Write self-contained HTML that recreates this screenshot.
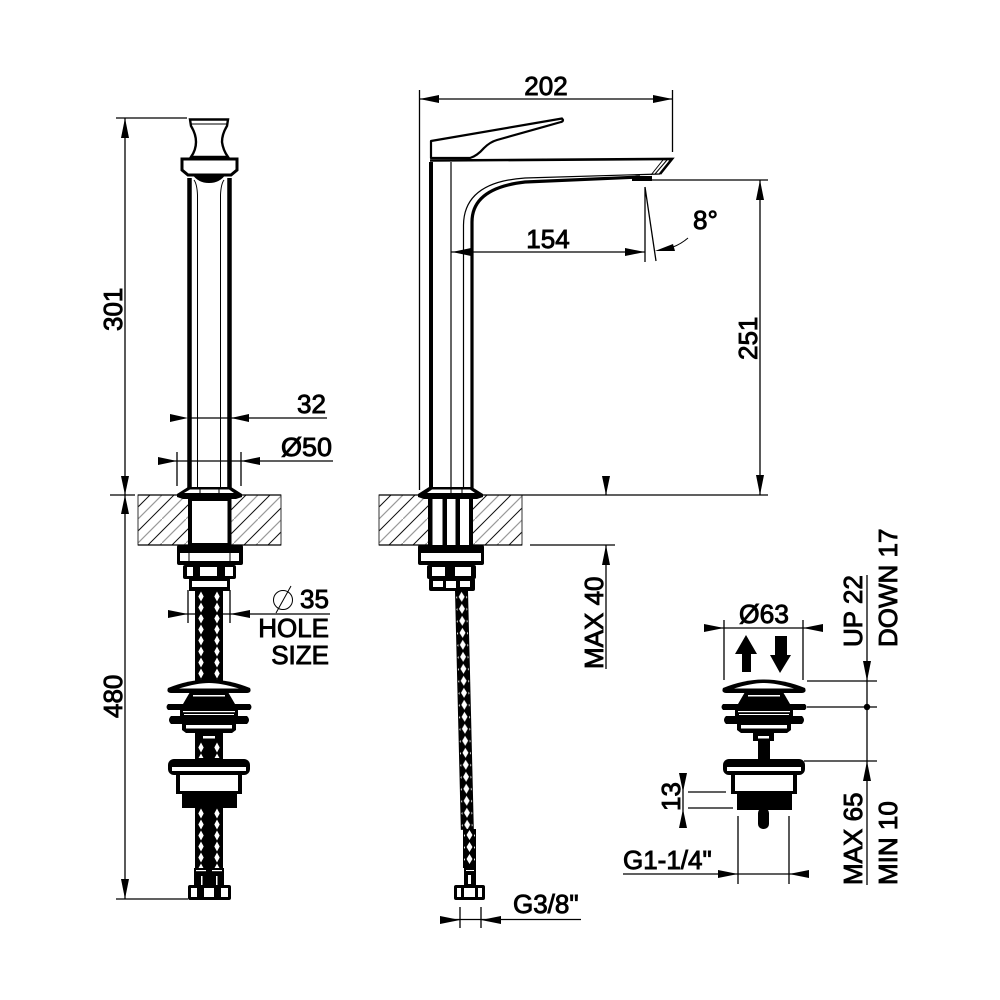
<!DOCTYPE html>
<html><head><meta charset="utf-8"><style>
html,body{margin:0;padding:0;background:#fff}
svg{display:block}
text{font-family:"Liberation Sans",sans-serif;font-size:26px;fill:#000;stroke:#000;stroke-width:.9px}
.d{stroke:#000;stroke-width:1.3;fill:none}
.g{stroke:#000;stroke-width:1;fill:none}
.a{fill:#000;stroke:none}
.k{fill:#000;stroke:none}
.w{fill:#fff;stroke:none}
.h{stroke:#000;stroke-width:4;fill:#fff}
</style></head><body>
<svg width="1000" height="1000" viewBox="0 0 1000 1000" xmlns="http://www.w3.org/2000/svg">
<defs>
<pattern id="br" width="7" height="11" patternUnits="userSpaceOnUse">
<rect width="7" height="11" fill="#000"/><polygon points="3.500,.5 6.200,5.500 3.500,10.500 .8,5.500" fill="#fff"/>
</pattern>
<pattern id="br2" width="13" height="12" patternUnits="userSpaceOnUse">
<rect width="13" height="12" fill="#000"/><polygon points="6.500,1 9.500,6 6.500,11 3.500,6" fill="#fff"/>
<polygon points="2,5 .9,6.500 2,8" fill="#fff"/><polygon points="11,5 12.100,6.500 11,8" fill="#fff"/>
</pattern>
<pattern id="h1" width="24" height="24" patternUnits="userSpaceOnUse">
<path d="M-1,13 L13,-1 M11,25 L25,11" stroke="#111" stroke-width="1"/>
<path d="M-1,25 L25,-1" stroke="#999" stroke-width="1.200"/>
</pattern>
<g id="pop">
<path class="k" d="M-41,688 Q-20,679.500 0,679.500 Q20,679.500 41,688 Q43,692.500 38,693 L-38,693 Q-43,692.500 -41,688Z"/>
<path class="w" d="M-30,688.500 Q-12,683 0,683 Q12,683 30,688.500Z"/>
<path class="k" d="M-19,692 L19,692 L26,704 L41,704 Q44,707 41,710 L29,710 L29,716 L38,716 Q42,720 38,724 L27,724 L27,730 L23,733 L-23,733 L-27,730 L-27,724 L-38,724 Q-42,720 -38,716 L-29,716 L-29,710 L-41,710 Q-44,707 -41,704 L-26,704Z"/>
<rect class="w" x="-16" y="695" width="32" height="1.500"/>
<rect class="w" x="-26" y="711" width="52" height="1.200"/>
<rect class="w" x="-25" y="714" width="50" height="1"/>
<rect class="w" x="-23" y="725" width="46" height="3.500"/>
<rect class="k" x="-10" y="733" width="20" height="8"/>
<rect class="w" x="-6" y="736" width="12" height="2.500"/>
<rect class="k" x="-33" y="773" width="66" height="21"/>
<rect class="w" x="-29" y="775" width="58" height="16"/>
<rect class="k" x="-41" y="759" width="82" height="16" rx="6"/>
<rect class="w" x="-37" y="767" width="74" height="4"/>
</g>
</defs>
<rect width="1000" height="1000" fill="#fff"/>

<!-- hatched blocks -->
<g transform="translate(138,495)"><rect width="143" height="50" fill="url(#h1)" stroke="#333" stroke-width="1"/></g>
<g transform="translate(379,495)"><rect width="143" height="50" fill="url(#h1)" stroke="#333" stroke-width="1"/></g>
<path class="d" d="M110,495H135M138,495H281M379,495H768M530,545H615M379,545H522M138,545H281"/>

<!-- LEFT VIEW handle -->
<path d="M190,119.500H228L227,126Q222,134 222,142Q223,150 228,157H191Q196,150 196,142Q196,134 191,126Z" fill="#fff" stroke="#000" stroke-width="2.400"/>
<path class="g" d="M191,124H227"/>
<path d="M182,159H237V170L231,175H188L182,170Z" fill="#fff" stroke="#000" stroke-width="3"/>
<path class="k" d="M192,174H226Q220,183 209,183Q198,183 192,174Z"/>
<path d="M189.500,178V488M229.500,178V488" stroke="#000" stroke-width="4.500" fill="none"/>
<path d="M194,180Q197,184 197.500,195V488M224,180Q221,184 220.500,195V488" stroke="#000" stroke-width="1" fill="none"/>
<!-- left base -->
<path d="M188,487H231L242,494V497L236,499H183L177,497V494Z" class="k"/>
<path class="w" d="M190,489.500H229L234,493H184Z"/>
<path class="g" d="M200,488V493M219,488V493"/>
<rect class="h" x="190" y="499" width="39.500" height="46"/>
<rect class="k" x="177" y="545" width="66" height="20" rx="2"/>
<rect class="w" x="180" y="553" width="59" height="8"/>
<path class="g" d="M189,553V561M230,553V561"/>
<rect class="k" x="183" y="565" width="53" height="14" rx="2"/>
<rect class="w" x="187" y="567" width="6" height="9"/><rect class="w" x="200" y="567" width="17" height="9"/><rect class="w" x="225" y="567" width="8" height="9"/>
<rect class="k" x="189" y="578" width="41" height="13"/>
<rect class="w" x="192" y="581" width="35" height="6"/>
<!-- left hoses -->
<rect class="k" x="195" y="591" width="28" height="90"/>
<g transform="translate(197.500,591)"><rect width="7" height="90" fill="url(#br)"/></g>
<g transform="translate(213.500,591)"><rect width="7" height="90" fill="url(#br)"/></g>
<rect class="k" x="195" y="733" width="28" height="28"/>
<g transform="translate(197.500,742)"><rect width="7" height="16" fill="url(#br)"/></g>
<g transform="translate(213.500,742)"><rect width="7" height="16" fill="url(#br)"/></g>
<rect class="k" x="195" y="806" width="28" height="64"/>
<g transform="translate(197.500,808)"><rect width="7" height="60" fill="url(#br)"/></g>
<g transform="translate(213.500,808)"><rect width="7" height="60" fill="url(#br)"/></g>
<rect class="k" x="194" y="868" width="30" height="18"/>
<rect class="w" x="196" y="870" width="10" height="1.200"/><rect class="w" x="212" y="870" width="10" height="1.200"/>
<rect class="w" x="201" y="876" width="1.500" height="9"/><rect class="w" x="216" y="876" width="1.500" height="9"/>
<rect class="k" x="188" y="885" width="43" height="15" rx="2"/>
<rect class="w" x="191" y="888" width="6" height="9"/><rect class="w" x="204" y="888" width="10" height="9"/><rect class="w" x="221" y="888" width="7" height="9"/>
<!-- left popup -->
<use href="#pop" x="209"/>
<rect class="k" x="182" y="793" width="55" height="15"/>

<!-- RIGHT VIEW faucet -->
<path d="M431,141L562,118.500L563,120Q563,121.500 561,122L497,140Q490,142 484,148Q477,156 470,158H431Z" fill="#fff" stroke="#000" stroke-width="2.200" stroke-linejoin="round"/>
<path d="M430,160.500L672,159L660,174" fill="none" stroke="#000" stroke-width="2.600"/>
<path d="M667,160L655,174M663,160L651,175" fill="none" stroke="#000" stroke-width="1"/>
<path d="M431,162V488" stroke="#000" stroke-width="4" fill="none"/>
<path d="M451,162V488" stroke="#000" stroke-width="1.200" fill="none"/>
<path d="M463.500,488V225Q464,182 525,178L660,174" fill="none" stroke="#000" stroke-width="1.200"/>
<path d="M472,488V222Q472,188 525,182L640,177" fill="none" stroke="#000" stroke-width="3.200"/>
<rect class="k" x="632" y="176" width="20" height="5"/>
<!-- right base -->
<path class="k" d="M429,487H472L483,494V497L477,499H424L418,497V494Z"/>
<path class="w" d="M432,489.500H470L475,493H427Z"/>
<path class="g" d="M451,488V493M462,488V493"/>
<rect class="k" x="428" y="499" width="45" height="46"/>
<rect class="w" x="432.500" y="499" width="10" height="46"/><rect class="w" x="447" y="499" width="8.500" height="46"/><rect class="w" x="460" y="499" width="9" height="46"/>
<rect class="k" x="418" y="545" width="66" height="20" rx="2"/>
<rect class="w" x="421" y="553" width="60" height="8"/>
<rect class="k" x="427" y="565" width="49" height="14" rx="2"/>
<rect class="w" x="432" y="567" width="13" height="9"/><rect class="w" x="455" y="567" width="16" height="9"/>
<rect class="k" x="429" y="578" width="46" height="13" rx="2"/>
<rect class="w" x="433" y="581" width="10" height="6"/><rect class="w" x="446" y="581" width="10" height="7"/><rect class="w" x="460" y="581" width="10" height="6"/>
<!-- right hose -->
<g transform="translate(455,591) rotate(-1.400)">
<rect width="13" height="239" fill="url(#br2)"/>
</g>
<g transform="translate(463,829)"><rect width="13" height="39" fill="url(#br2)"/></g>
<rect class="k" x="464" y="866" width="12" height="20"/>
<rect class="w" x="466" y="870" width="8" height="1"/><rect class="w" x="468" y="875" width="3" height="9"/>
<rect class="k" x="454" y="885" width="31" height="15" rx="2"/>
<rect class="w" x="457" y="888" width="4" height="9"/><rect class="w" x="464" y="888" width="11" height="9"/><rect class="w" x="478" y="888" width="4" height="9"/>

<!-- RIGHT popup -->
<use href="#pop" x="764"/>
<rect class="k" x="758" y="733" width="12" height="30"/>
<rect class="k" x="753" y="733" width="20" height="8"/>
<rect class="w" x="758" y="736" width="11" height="2.500"/>
<rect class="k" x="737" y="793" width="55" height="17"/>
<rect class="k" x="758" y="808" width="11" height="21" rx="5"/>

<!-- DIMENSIONS -->
<!-- 301 / 480 -->
<path class="d" d="M116,118H187M125,118V899M116,899H188"/>
<polygon class="a" points="125,118 121,138 129,138"/>
<polygon class="a" points="125,495 121,476 129,476"/>
<polygon class="a" points="125,495 121,514 129,514"/>
<polygon class="a" points="125,899 121,879 129,879"/>
<text transform="translate(122,331) rotate(-90)">301</text>
<text transform="translate(122,718) rotate(-90)">480</text>
<!-- 32 -->
<path class="d" d="M188,418H327"/>
<polygon class="a" points="188,418 170,414 170,422"/>
<polygon class="a" points="231,418 249,414 249,422"/>
<text x="297" y="413">32</text>
<!-- phi50 -->
<path class="d" d="M177,452V486M241,452V486M158,461H333"/>
<polygon class="a" points="177,461 158,457 158,465"/>
<polygon class="a" points="241,461 260,457 260,465"/>
<text x="281" y="456" textLength="51" lengthAdjust="spacingAndGlyphs">Ø50</text>
<!-- phi35 -->
<path class="d" d="M188,590V623M230,590V623M168,614H330"/>
<polygon class="a" points="188,614 168,610 168,618"/>
<polygon class="a" points="230,614 250,610 250,618"/>
<circle cx="283" cy="600" r="9.500" fill="none" stroke="#000" stroke-width="1"/>
<path d="M276,613L291,586" stroke="#000" stroke-width="1"/>
<text x="300" y="608">35</text>
<text x="329" y="637" text-anchor="end">HOLE</text>
<text x="329" y="664" text-anchor="end">SIZE</text>

<!-- 202 -->
<path class="d" d="M419.500,90V490M672.500,90V152M419.500,99H672.500"/>
<polygon class="a" points="419.500,99 439,95 439,103"/>
<polygon class="a" points="672.500,99 653,95 653,103"/>
<text x="546" y="95" text-anchor="middle">202</text>
<!-- 154 -->
<path class="d" d="M451,252H645M645,187V262M645,187L656,261"/>
<polygon class="a" points="452,252 471,248 471,256"/>
<polygon class="a" points="645,252 625,248 625,256"/>
<text x="548" y="248" text-anchor="middle">154</text>
<!-- 8 deg -->
<polygon class="a" points="655,251 673,244 675,251"/>
<path class="g" d="M673,247Q681,244 688,238"/>
<text x="693" y="229">8°</text>
<!-- 251 -->
<path class="d" d="M645,180H768M760,180V495"/>
<polygon class="a" points="760,180 756,200 764,200"/>
<polygon class="a" points="760,495 756,475 764,475"/>
<text transform="translate(757,360) rotate(-90)">251</text>
<!-- MAX 40 -->
<path class="d" d="M606,476V495M606,545V669"/>
<polygon class="a" points="606,495 602,476 610,476"/>
<polygon class="a" points="606,545 602,565 610,565"/>
<text transform="translate(603,669) rotate(-90)">MAX 40</text>
<!-- G3/8 -->
<path class="d" d="M460,907V928M481,907V928M440,919.500H581"/>
<polygon class="a" points="460,920 440,916 440,924"/>
<polygon class="a" points="481,920 501,916 501,924"/>
<text x="513" y="913">G3/8"</text>
<!-- phi63 -->
<path class="d" d="M724,620V680M803,620V680M704,628H823"/>
<polygon class="a" points="724,628 704,624 704,632"/>
<polygon class="a" points="803,628 823,624 823,632"/>
<text x="739" y="623" textLength="50" lengthAdjust="spacingAndGlyphs">Ø63</text>
<polygon class="a" points="746,635 757,654 751,654 751,672 742,672 742,654 735,654"/>
<polygon class="a" points="780,673 770,655 775,655 775,636 787,636 787,655 791,655"/>
<!-- right dims -->
<path class="d" d="M807,681H877M807,707H877M804,761H877M867,575V885"/>
<polygon class="a" points="867,681 863,661 871,661"/>
<polygon class="a" points="867,761 863,781 871,781"/>
<circle cx="867" cy="707" r="3.200" fill="#000"/>
<text transform="translate(862,647) rotate(-90)">UP 22</text>
<text transform="translate(897,647) rotate(-90)">DOWN 17</text>
<text transform="translate(862,885) rotate(-90)">MAX 65</text>
<text transform="translate(897,885) rotate(-90)">MIN 10</text>
<!-- 13 -->
<path class="d" d="M688,792H726M688,808H733M683,773V828"/>
<polygon class="a" points="683,792 679,773 687,773"/>
<polygon class="a" points="683,809 679,828 687,828"/>
<text transform="translate(680,811) rotate(-90)">13</text>
<!-- G1-1/4 -->
<path class="d" d="M738,816V884M789,816V884M623,874H809"/>
<polygon class="a" points="738,874 718,870 718,878"/>
<polygon class="a" points="789,874 809,870 809,878"/>
<text x="623" y="869">G1-1/4"</text>
</svg>
</body></html>
